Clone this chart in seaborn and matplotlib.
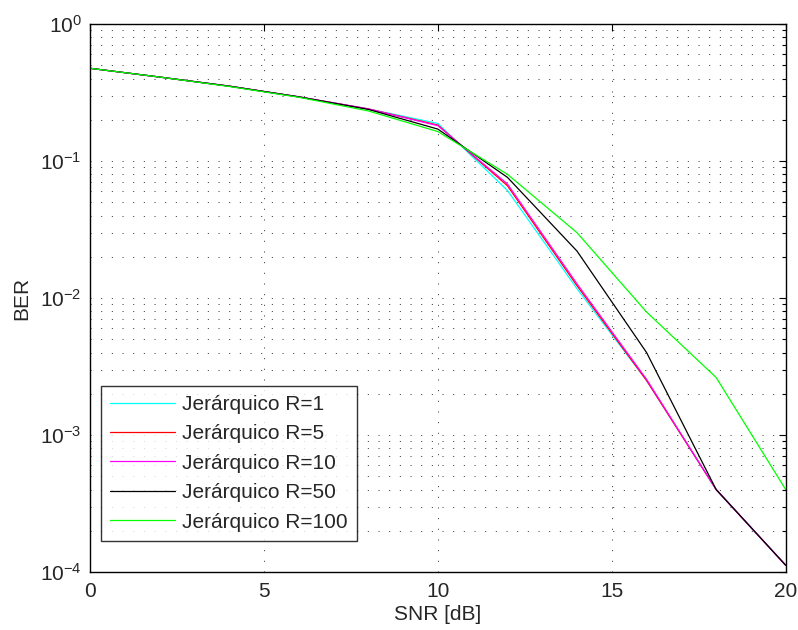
import matplotlib
matplotlib.use("Agg")
import matplotlib.pyplot as plt
import seaborn as sns
import pandas as pd
import numpy as np
from matplotlib.ticker import LogLocator, FixedLocator, NullLocator

sns.set_style("white")
plt.rcParams['font.family'] = ['Liberation Sans', 'DejaVu Sans']
plt.rcParams['mathtext.fontset'] = 'custom'
plt.rcParams['mathtext.rm'] = 'Liberation Sans'
plt.rcParams['mathtext.it'] = 'Liberation Sans:italic'
plt.rcParams['mathtext.bf'] = 'Liberation Sans:bold'

# Bit error rate vs SNR for the hierarchical scheme at several R values
snr_db = [0, 2, 4, 6, 8, 10, 12, 14, 16, 18, 20]
ber_r1 = [0.475, 0.41, 0.352, 0.294, 0.240, 0.188, 0.061, 0.0117, 0.00250, 0.00040, 0.000112]
ber_r5 = [0.475, 0.41, 0.352, 0.294, 0.240, 0.183, 0.066, 0.0123, 0.00250, 0.00040, 0.000112]
ber_r10 = [0.475, 0.41, 0.352, 0.294, 0.240, 0.181, 0.068, 0.0127, 0.00255, 0.00040, 0.000112]
ber_r50 = [0.475, 0.41, 0.352, 0.294, 0.238, 0.171, 0.076, 0.0220, 0.00400, 0.00040, 0.000112]
ber_r100 = [0.475, 0.41, 0.350, 0.292, 0.232, 0.164, 0.080, 0.0300, 0.00790, 0.00263, 0.000400]

labels = ["Jerárquico R=1", "Jerárquico R=5", "Jerárquico R=10",
          "Jerárquico R=50", "Jerárquico R=100"]
series = [ber_r1, ber_r5, ber_r10, ber_r50, ber_r100]
colors = ["#00FFFF", "#FF0000", "#FF00FF", "#000000", "#00FF00"]

df = pd.concat(
    [pd.DataFrame({"SNR": snr_db, "BER": s, "curve": lab}) for s, lab in zip(series, labels)],
    ignore_index=True,
)

FS = 15

fig = plt.figure(figsize=(7.98, 6.30), dpi=100)
ax = fig.add_axes([90 / 798, 1 - 572 / 630, 695.7 / 798, 548 / 630])

sns.lineplot(data=df, x="SNR", y="BER", hue="curve", hue_order=labels,
             palette=colors, linewidth=0.9, ax=ax, legend=True)

ax.set_yscale("log")
ax.set_xlim(0, 20)
ax.set_ylim(1e-4, 1)
ax.xaxis.set_major_locator(FixedLocator([0, 5, 10, 15, 20]))
ax.xaxis.set_minor_locator(NullLocator())
ax.yaxis.set_major_locator(LogLocator(base=10, numticks=10))
ax.yaxis.set_minor_locator(LogLocator(base=10, subs=np.arange(2, 10), numticks=20))

dots = (0, (1.3, 11.5))
ax.grid(which="major", axis="both", linestyle=dots, color="#222222", linewidth=0.6)
ax.grid(which="minor", axis="y", linestyle=dots, color="#222222", linewidth=0.6)

ax.tick_params(which="both", direction="in", top=True, right=True, labelsize=FS,
               color="black", width=0.8)
ax.tick_params(which="major", length=5)
ax.tick_params(which="minor", length=3)
ax.tick_params(axis="x", which="major", pad=7)
ax.tick_params(axis="y", which="major", pad=6)
for sp in ax.spines.values():
    sp.set_color("black")
    sp.set_linewidth(1.0)

ax.set_xlabel("SNR [dB]", fontsize=FS, labelpad=3)
ax.set_ylabel("BER", fontsize=FS, labelpad=6)

leg = ax.legend(loc="lower left", bbox_to_anchor=(0.0158, 0.0566), borderaxespad=0,
                fontsize=FS, frameon=True, fancybox=False, edgecolor="black",
                handlelength=3.1, handletextpad=0.34, labelspacing=0.5,
                borderpad=0.45, title=None)
leg.get_frame().set_linewidth(1.0)
for line in leg.get_lines():
    line.set_linewidth(0.9)

fig.savefig("out.png", dpi=100)
